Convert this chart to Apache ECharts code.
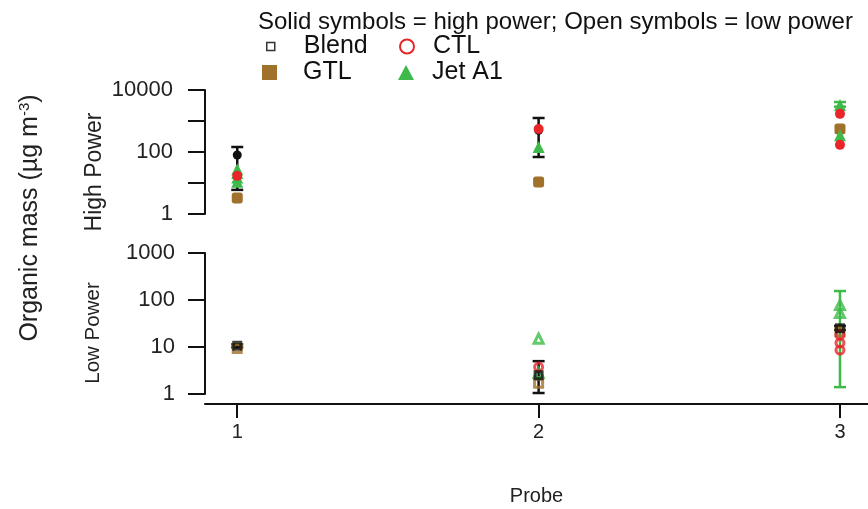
<!DOCTYPE html>
<html><head><meta charset="utf-8">
<script src="https://cdn.jsdelivr.net/npm/echarts@6/dist/echarts.min.js"></script>
<style>html,body{margin:0;padding:0;background:#fff}#c{width:868px;height:509px}</style>
</head><body><div id="c"></div>
<script>
// Probe tick labels
const probeTicks = [1, 2, 3];
const highTickLabels = [1, 100, 10000];
const lowTickLabels = [1, 10, 100, 1000];

// High power (solid symbols): [probe, organic mass µg m-3]
const blendHigh = [[1, 80], [2, 500]];
const ctlHigh = [[1, 17], [2, 550], [3, 1700], [3, 170]];
const gtlHigh = [[1, 3.3], [2, 10.8], [3, 550]];
const jetHigh = [[1, 11], [1, 15], [1, 21], [1, 28], [2, 145], [3, 3300], [3, 350]];
// error bars: [probe, low, high]
const blendHighErr = [[1, 6, 145], [2, 69, 1250]];
const jetHighErr = [[3, 2900, 4100]];

// Low power (open symbols)
const blendLow = [[1, 10.6], [2, 2.5], [3, 25]];
const ctlLow = [[2, 3.75], [3, 18], [3, 12.2], [3, 8.6]];
const gtlLow = [[1, 9.3], [2, 1.7], [3, 21]];
const jetLow = [[2, 15], [2, 2.8], [3, 78], [3, 53]];
const blendLowErr = [[1, 9.8, 11.4], [2, 1.05, 5.0], [3, 23, 28]];
const jetLowErr = [[3, 1.4, 155]];

const COL = { blend: '#111111', ctl: '#e8262a', gtl: '#a0712b', jet: '#3dba49' };
const FONT = 'Liberation Sans, Arial, sans-serif';

function errSeries(data, color, gi, z) {
  return {
    type: 'custom', xAxisIndex: gi, yAxisIndex: gi, z: z, data: data, silent: true,
    encode: { x: 0, y: [1, 2] },
    renderItem: function (params, api) {
      const x = api.value(0), lo = api.value(1), hi = api.value(2);
      const p1 = api.coord([x, lo]), p2 = api.coord([x, hi]);
      const w = 6, st = { stroke: color, lineWidth: 2.5 };
      return {
        type: 'group', children: [
          { type: 'line', shape: { x1: p1[0], y1: p1[1], x2: p2[0], y2: p2[1] }, style: st },
          { type: 'line', shape: { x1: p1[0] - w, y1: p1[1], x2: p1[0] + w, y2: p1[1] }, style: st },
          { type: 'line', shape: { x1: p2[0] - w, y1: p2[1], x2: p2[0] + w, y2: p2[1] }, style: st }
        ]
      };
    }
  };
}
function scat(name, data, gi, symbol, size, color, open, z) {
  return {
    type: 'scatter', name: name, xAxisIndex: gi, yAxisIndex: gi, data: data, z: z,
    symbol: symbol, symbolSize: size,
    itemStyle: open ? { color: 'rgba(255,255,255,0)', borderColor: color, borderWidth: 3 }
                    : { color: color, opacity: 1 },
    emphasis: { disabled: true }
  };
}

const chart = echarts.init(document.getElementById('c'), null, { renderer: 'canvas' });
const xCommon = { type: 'value', min: 0.893, max: 3.093 };
const yLine = { show: true, lineStyle: { color: '#111', width: 2 } };
const yTick = { show: true, length: 17, lineStyle: { color: '#111', width: 2 } };

function legendItem(name, icon, w, h, left, top, pad, style) {
  return {
    data: [{ name: name, icon: icon, itemStyle: style }],
    left: left, top: top, itemWidth: w, itemHeight: h, selectedMode: false, padding: 0,
    textStyle: { fontSize: 25, fontFamily: FONT, color: '#111', padding: [0, 0, 0, pad] }
  };
}

chart.setOption({
  animation: false,
  backgroundColor: '#fff',
  title: {
    text: 'Solid symbols = high power; Open symbols = low power',
    left: 253, top: 5,
    textStyle: { fontSize: 24, fontWeight: 'normal', color: '#111', fontFamily: FONT }
  },
  legend: [
    legendItem('Blend', 'rect', 8, 8, 266, 34, 24, { color: '#fff', borderColor: '#333', borderWidth: 1.5 }),
    legendItem('CTL', 'circle', 14, 14, 399, 34, 14, { color: '#fff', borderColor: COL.ctl, borderWidth: 2 }),
    legendItem('GTL', 'rect', 15, 15, 262, 60, 21, { color: COL.gtl }),
    legendItem('Jet A1', 'triangle', 16, 15, 398, 60, 13, { color: COL.jet })
  ],
  grid: [
    { left: 205, top: 90, width: 663, height: 124, outerBoundsMode: 'none', containLabel: false },
    { left: 205, top: 253, width: 663, height: 141, outerBoundsMode: 'none', containLabel: false }
  ],
  xAxis: [
    Object.assign({ gridIndex: 0, show: false }, xCommon),
    Object.assign({
      gridIndex: 1, offset: 10,
      axisLine: { show: true, onZero: false, lineStyle: { color: '#111', width: 2 } },
      axisTick: { show: true, customValues: probeTicks, length: 14, lineStyle: { color: '#111', width: 2 } },
      axisLabel: { customValues: probeTicks, fontSize: 20, margin: 18, color: '#222', fontFamily: FONT },
      splitLine: { show: false },
      name: 'Probe', nameLocation: 'middle', nameGap: 82,
      nameTextStyle: { fontSize: 20, color: '#222', fontFamily: FONT }
    }, xCommon)
  ],
  yAxis: [
    {
      gridIndex: 0, type: 'log', logBase: 10, min: 1, max: 10000, splitNumber: 4,
      axisLine: yLine, axisTick: yTick, splitLine: { show: false },
      axisLabel: {
        fontSize: 22, margin: 32, color: '#222', fontFamily: FONT,
        formatter: function (v) { return highTickLabels.indexOf(Math.round(v)) >= 0 ? String(Math.round(v)) : ''; }
      }
    },
    {
      gridIndex: 1, type: 'log', logBase: 10, min: 1, max: 1000, splitNumber: 3,
      axisLine: yLine, axisTick: yTick, splitLine: { show: false },
      axisLabel: {
        fontSize: 22, margin: 30, color: '#222', fontFamily: FONT,
        formatter: function (v) { return lowTickLabels.indexOf(Math.round(v)) >= 0 ? String(Math.round(v)) : ''; }
      }
    }
  ],
  graphic: [
    { type: 'text', x: 30, y: 218, rotation: Math.PI / 2,
      style: { text: '{a|Organic mass (µg m}{s|-3}{a|)}', align: 'center', verticalAlign: 'middle',
        rich: { a: { fontSize: 25, fontFamily: FONT, fill: '#222' },
                s: { fontSize: 15, fontFamily: FONT, fill: '#222', verticalAlign: 'top', padding: [0, 0, 10, 0] } } } },
    { type: 'text', x: 95, y: 172, rotation: Math.PI / 2,
      style: { text: 'High Power', align: 'center', verticalAlign: 'middle', fontSize: 23, fontFamily: FONT, fill: '#222' } },
    { type: 'text', x: 93, y: 333, rotation: Math.PI / 2,
      style: { text: 'Low Power', align: 'center', verticalAlign: 'middle', fontSize: 20.5, fontFamily: FONT, fill: '#222' } }
  ],
  series: [
    errSeries(blendHighErr, COL.blend, 0, 2),
    errSeries(jetHighErr, COL.jet, 0, 2),
    scat('Blend', blendHigh, 0, 'circle', 9, COL.blend, false, 3),
    scat('GTL', gtlHigh, 0, 'roundRect', 11, COL.gtl, false, 3),
    scat('Jet A1', jetHigh, 0, 'triangle', 12, COL.jet, false, 3),
    scat('CTL', ctlHigh, 0, 'circle', 10, COL.ctl, false, 3),
    errSeries(jetLowErr, COL.jet, 1, 2),
    errSeries(blendLowErr, COL.blend, 1, 2),
    scat('GTL', gtlLow, 1, 'rect', 8, COL.gtl, true, 3),
    scat('Jet A1', jetLow, 1, 'triangle', 9, COL.jet, true, 3),
    scat('CTL', ctlLow, 1, 'circle', 8, COL.ctl, true, 3),
    scat('Blend', blendLow, 1, 'rect', 7, COL.blend, true, 3)
  ]
});
</script>
</body></html>
